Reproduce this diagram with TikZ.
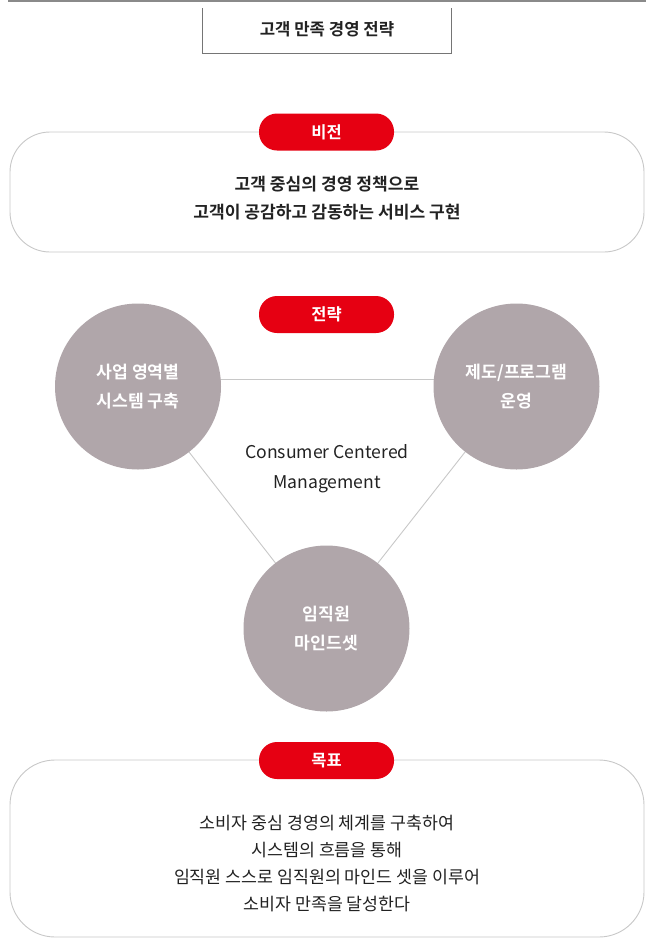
\documentclass[tikz,border=0pt]{standalone}
\usepackage{fontspec}
\setmainfont{Noto Sans CJK KR}
\newfontfamily\krbold{Noto Sans CJK KR Bold}
\definecolor{cRed}{HTML}{E60012}
\definecolor{cCirc}{HTML}{B0A6AA}
\definecolor{cLine}{HTML}{C8C8C8}
\definecolor{cTop}{HTML}{8A8A8A}
\definecolor{cText}{HTML}{222222}
\begin{document}
\begin{tikzpicture}[x=1pt,y=-1pt,
  pill/.style={fill=cRed,rounded corners=18pt,minimum width=135pt,minimum height=37pt,inner sep=0pt,text=white,font=\krbold\fontsize{16.5}{16.5}\selectfont},
  panel/.style={draw=cLine,line width=0.9pt,fill=white},
  circ/.style={circle,fill=cCirc,minimum size=166pt,inner sep=0pt,text=white,align=center,font=\krbold\fontsize{17.2}{29}\selectfont},
  link/.style={draw=cLine,line width=0.9pt},
  body/.style={align=center,text=cText,inner sep=0pt}]
\useasboundingbox (0,0) rectangle (646,938);
% top rule and title box
\coordinate (tl) at (8,1);
\coordinate (tr) at (646,1);
\draw[cTop,line width=1.3pt] (tl) -- (tr);
\coordinate (b1) at (202.5,8);
\coordinate (b2) at (202.5,53);
\coordinate (b3) at (451.5,53);
\coordinate (b4) at (451.5,8);
\draw[cTop!85!black,line width=1pt] (b1) -- (b2) -- (b3) -- (b4);
\node[body,font=\krbold\fontsize{16.7}{16.7}\selectfont] (title) at (327,29) {고객 만족 경영 전략};
% vision
\draw[panel,rounded corners=40pt] (10,132) rectangle (644,252);
\node[pill] (pv) at (326.5,132) {비전};
\node[body,font=\krbold\fontsize{17.1}{28}\selectfont] (vt) at (327,198) {고객 중심의 경영 정책으로\\고객이 공감하고 감동하는 서비스 구현};
% strategy
\node[pill] (ps) at (326.5,314.5) {전략};
\coordinate (cl) at (138,386.5);
\coordinate (cr) at (516.5,386.5);
\coordinate (cb) at (326.5,628.5);
\draw[link] ([yshift=7pt]cl) -- ([yshift=7pt]cr);
\draw[link] (cl) -- (cb);
\draw[link] (cr) -- (cb);
\node[circ] (L) at (cl) {사업 영역별\\시스템 구축};
\node[circ] (R) at (cr) {제도/프로그램\\운영};
\node[circ] (B) at (cb) {임직원\\마인드셋};
\node[body,font=\fontsize{17.6}{30}\selectfont] (cc) at (327,469) {Consumer Centered\\Management};
% goal
\draw[panel,rounded corners=45pt] (10,760) rectangle (644,937);
\node[pill] (pg) at (326.5,760.5) {목표};
\node[body,font=\fontsize{17.3}{27}\selectfont] (gt) at (327,863.5) {소비자 중심 경영의 체계를 구축하여\\시스템의 흐름을 통해\\임직원 스스로 임직원의 마인드 셋을 이루어\\소비자 만족을 달성한다};
\end{tikzpicture}
\end{document}
